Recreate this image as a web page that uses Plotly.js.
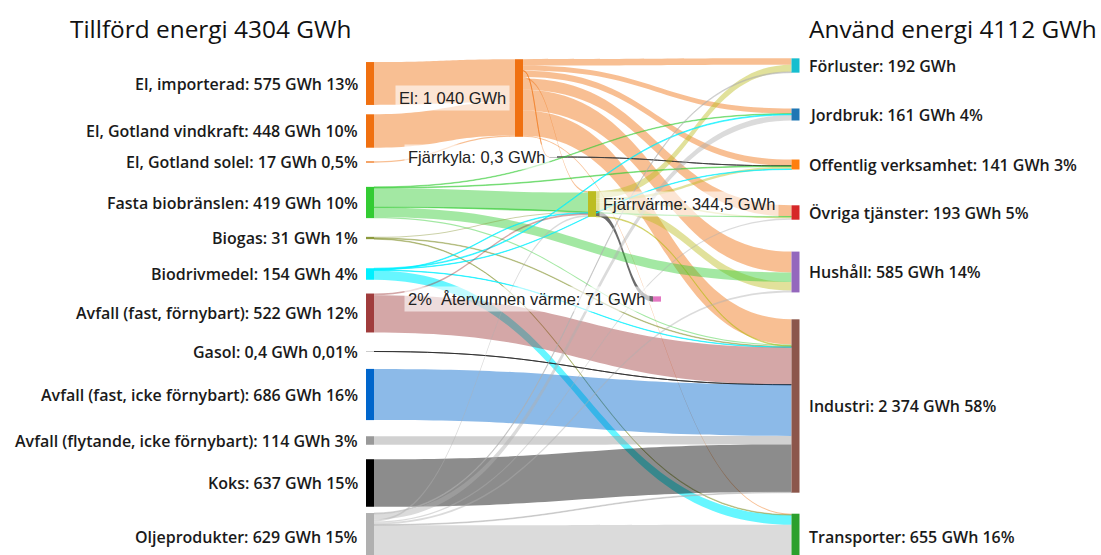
<!DOCTYPE html>
<html><head><meta charset="utf-8">
<script src="https://cdn.plot.ly/plotly-3.0.1.min.js"></script>
<style>html,body{margin:0;padding:0;background:#fff}#chart{width:1101px;height:555px}</style>
</head><body><div id="chart"></div>
<script>
// ---- data ----
const nodeNames = ["El, importerad","El, Gotland vindkraft","El, Gotland solel","Fasta biobränslen","Biogas","Biodrivmedel","Avfall (fast, förnybart)","Gasol","Avfall (fast, icke förnybart)","Avfall (flytande, icke förnybart)","Koks","Oljeprodukter","El","Fjärrkyla","Fjärrvärme","Återvunnen värme","Förluster","Jordbruk","Offentlig verksamhet","Övriga tjänster","Hushåll","Industri","Transporter"];
const nodeTotals = [575,448,17,419,31,154,522,0.4,686,114,637,629,1040,0.3,344.5,71,192,161,141,193,585,2374,655];
const nodeShares = ["13%","10%","0,5%","10%","1%","4%","12%","0,01%","16%","3%","15%","15%","","","","2%","","4%","3%","5%","14%","58%","16%"];
const titleIn = "Tillförd energi 4304 GWh";
const titleOut = "Använd energi 4112 GWh";

const linkSource = [0,1,2, 12,12,12,12,12,12,12,12,12, 13, 14,14,14,14,14,14, 3,3,3,3,3,3, 4,4,4, 5,5,5,5,5, 6,6, 7, 8, 9, 10, 11,11,11,11,11,11,11];
const linkTarget = [12,12,12, 16,17,18,19,20,21,22,14,13, 18, 16,18,19,20,21,15, 14,20,21,17,18,19, 14,21,22, 22,17,14,21,18, 21,14, 21, 21, 21, 21, 22,17,14,20,16,19,21];
const linkValue  = [575,448,17, 85,68,85,150,280,338,14,19.7,0.3, 0.3, 95,33,20,115,10.5,71, 254.8,127.2,15,8,9,5, 15,8,8, 125,10,8,5,6, 500,22, 0.4, 686, 114, 637, 464,75,25,25,12,18,10];

// ---- layout / style ----
const W = 1101, H = 555;
const domL = 340, domR = 820;
const nodeCX = [370,370,370,370,370,370,370,370,370,370,370,370, 519, 553, 592, 657, 795.5,795.5,795.5,795.5,795.5,795.5,795.5];
const nodeCY = [83.5,131,162,202.5,238,274,313,351.5,394.5,440.5,483,536.5, 98,157,204,299, 65.5,114.5,164.5,212.5,272,406,536.5];
const nodeColors = ["#f07010","#f07010","#f07010","#33cc33","#8c9a3c","#00f0ff","#a03c3c","#999999","#0066cc","#999999","#000000","#b0b0b0","#f07010","#7f7f7f","#bcbd22","#e377c2","#17becf","#1f77b4","#ff7f0e","#d62728","#9467bd","#8c564b","#2ca02c"];

function hexA(hex, a){const r=parseInt(hex.slice(1,3),16),g=parseInt(hex.slice(3,5),16),b=parseInt(hex.slice(5,7),16);return `rgba(${r},${g},${b},${a})`;}
const linkColors = linkSource.map((s,i)=>{
  const t = linkTarget[i];
  if (s===14 && t===15) return "rgba(80,80,80,0.85)";
  if (s===13) return "rgba(60,60,60,0.85)";
  if (s===7) return "rgba(40,40,40,0.8)";
  if (s===5) return hexA(nodeColors[s],0.6);
  return hexA(nodeColors[s],0.45);
});

function fmt(v){
  let [i,d] = String(v).split(".");
  i = i.replace(/\B(?=(\d{3})+(?!\d))/g, " ");
  return d ? i + "," + d : i;
}

const domW = domR - domL;
const trace = {
  type: "sankey",
  arrangement: "fixed",
  domain: {x: [domL/W, domR/W], y: [0, 1]},
  node: {
    label: nodeNames,
    color: nodeColors,
    thickness: 8,
    pad: 21.75,
    line: {width: 0},
    x: nodeCX.map(x => (x - domL)/domW),
    y: nodeCY.map(y => y / H)
  },
  link: {
    source: linkSource, target: linkTarget, value: linkValue,
    color: linkColors,
    line: {width: 0}
  },
  textfont: {color: "rgba(0,0,0,0)", size: 1, shadow: "none"}
};

const annotations = [];
const sideFont = {family: "Open Sans, Noto Sans, sans-serif", size: 16, color: "#1a1a1a", weight: 600};
const midFont = {family: "Liberation Sans, Arial, sans-serif", size: 16.5, color: "#222"};
function ann(text, xpx, ypx, xanchor, font, bg){
  const a = {text, x: xpx/W, y: 1 - ypx/H, xref: "paper", yref: "paper", xanchor, yanchor: "middle", showarrow: false, font};
  if (bg) { a.bgcolor = "rgba(255,255,255,0.6)"; a.borderpad = 3; }
  annotations.push(a);
}
for (let i = 0; i < 12; i++) {
  ann(`${nodeNames[i]}: ${fmt(nodeTotals[i])} GWh ${nodeShares[i]}`, nodeCX[i] - 10, nodeCY[i], "right", sideFont);
}
for (let i = 16; i < 23; i++) {
  const s = nodeShares[i] ? " " + nodeShares[i] : "";
  ann(`${nodeNames[i]}: ${fmt(nodeTotals[i])} GWh${s}`, nodeCX[i] + 11, nodeCY[i], "left", sideFont);
}
ann(`${nodeNames[12]}: ${fmt(nodeTotals[12])} GWh`, nodeCX[12] - 9, nodeCY[12], "right", midFont, true);
ann(`${nodeNames[13]}: ${fmt(nodeTotals[13])} GWh`, nodeCX[13] - 3, nodeCY[13], "right", midFont, true);
ann(`${nodeNames[14]}: ${fmt(nodeTotals[14])} GWh`, nodeCX[14] + 7, nodeCY[14], "left", midFont, true);
ann(`${nodeShares[15]}\u00a0\u00a0${nodeNames[15]}: ${fmt(nodeTotals[15])} GWh`, nodeCX[15] - 7, nodeCY[15], "right", midFont, true);
const titleFont = {family: "Open Sans, Noto Sans, sans-serif", size: 24.4, color: "#111"};
ann(titleIn, 68, 28, "left", titleFont);
ann(titleOut, 807, 28, "left", titleFont);

const layout = {
  width: W, height: H,
  margin: {l: 0, r: 0, t: 0, b: 0},
  paper_bgcolor: "#fff",
  showlegend: false,
  annotations
};
Plotly.newPlot("chart", [trace], layout, {displayModeBar: false, staticPlot: true});
</script>
</body></html>
